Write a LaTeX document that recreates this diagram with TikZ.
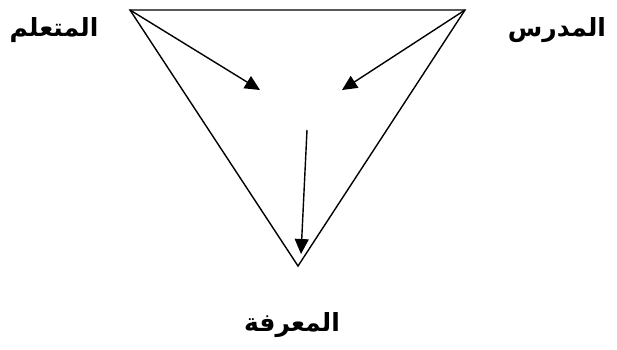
\documentclass[tikz,border=0pt]{standalone}
\usepackage{fontspec}
\newfontfamily\arabicfont[Script=Arabic]{DejaVu Sans}
\TeXXeTstate=1
\usetikzlibrary{arrows.meta}
\begin{document}
\begin{tikzpicture}[x=1pt,y=-1pt,
  edge/.style={line width=1.4pt},
  arr/.style={line width=1.4pt,-{Triangle[length=15pt,width=14pt]}},
  lab/.style={font=\arabicfont\bfseries\fontsize{25}{28}\selectfont, inner sep=0pt}]
\useasboundingbox (0,0) rectangle (617,349);
\coordinate (L) at (130,10);
\coordinate (R) at (465,10);
\coordinate (B) at (298,266);
\coordinate (t1) at (260,90);
\coordinate (t2) at (342,90);
\coordinate (s3) at (307,130);
\coordinate (t3) at (301,254);
\draw[edge, line join=miter] (L) -- (R) -- (B) -- cycle;
\draw[arr] (L) -- (t1);
\draw[arr] (R) -- (t2);
\draw[arr] (s3) -- (t3);
\node[lab] (learner) at (54,30) {\beginR المتعلم\endR};
\node[lab] (teacher) at (557,30) {\beginR المدرس\endR};
\node[lab] (knowledge) at (292,325) {\beginR المعرفة\endR};
\end{tikzpicture}
\end{document}
